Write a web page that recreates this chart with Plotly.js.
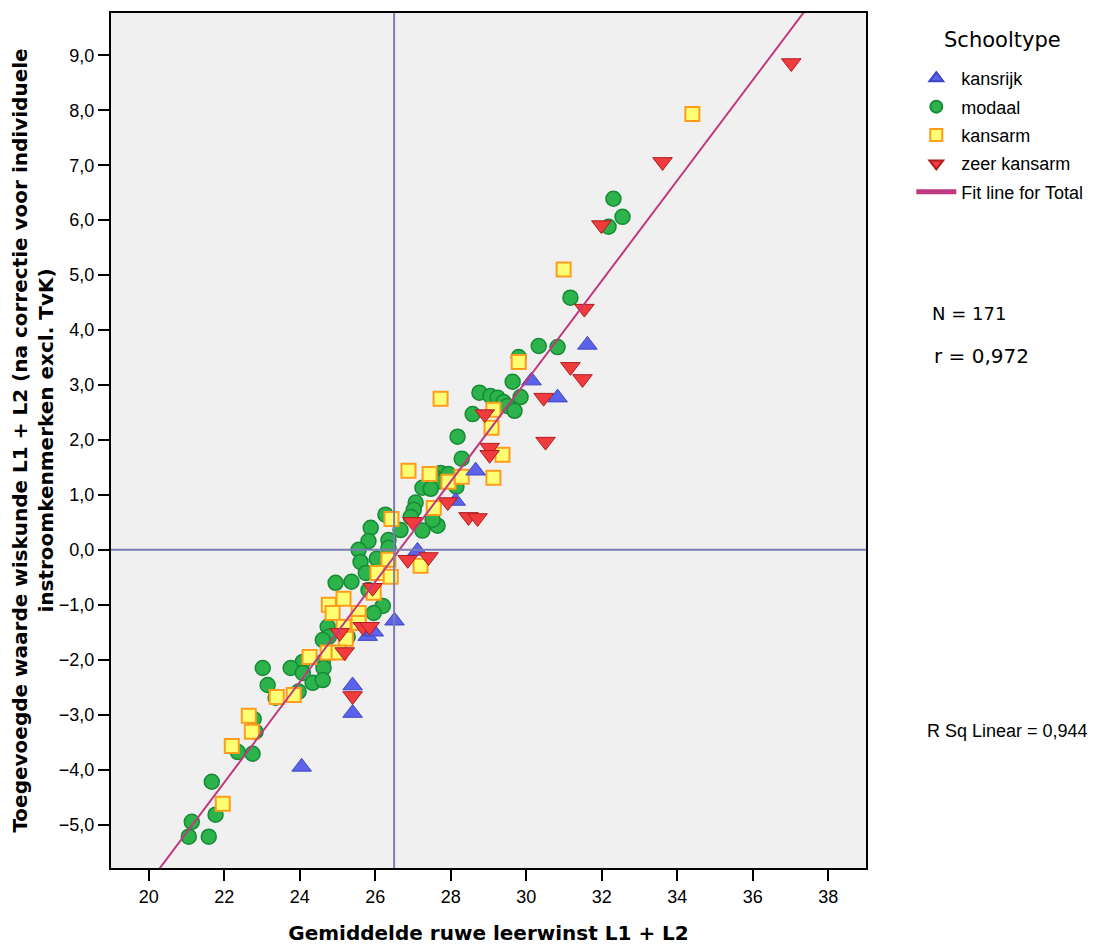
<!DOCTYPE html>
<html>
<head>
<meta charset="utf-8">
<script src="https://cdn.plot.ly/plotly-3.0.1.min.js"></script>
<style>html,body{margin:0;padding:0;background:#fff;}#chart{width:1108px;height:945px;}</style>
</head>
<body>
<div id="chart"></div>
<script>
// ---- data ----
const kansrijkX = [31.62, 30.14, 30.83, 28.66, 28.13, 27.12, 26.51, 25.80, 25.96, 25.40, 25.40, 24.05];
const kansrijkY = [3.73, 3.08, 2.77, 1.44, 0.89, -0.02, -1.29, -1.57, -1.49, -2.47, -2.97, -3.95];

const modaalX = [32.31, 32.55, 32.18, 31.17, 30.33, 30.83, 29.80, 29.64, 29.85, 28.76, 29.05, 29.24, 29.40, 29.50, 29.69, 28.58,
  28.18, 28.29, 27.73, 27.94, 27.55, 27.65, 27.25, 27.47, 28.15, 27.07, 27.02, 26.94, 27.25, 27.65, 27.52, 26.27, 26.67, 25.88,
  25.82, 26.35, 26.35, 25.56, 25.61, 26.04, 25.75, 24.95, 25.37, 25.82, 26.20, 25.96, 24.74, 24.77, 25.27, 24.61, 24.08, 23.76,
  24.08, 24.61, 24.63, 24.34, 24.61, 23.15, 23.36, 23.97, 22.78, 22.83, 22.36, 22.75, 21.67, 21.77, 21.14, 21.06, 21.59, 23.02];
const modaalY = [6.39, 6.06, 5.88, 4.59, 3.71, 3.69, 3.51, 3.06, 2.78, 2.86, 2.80, 2.77, 2.69, 2.62, 2.53, 2.47,
  2.06, 1.66, 1.40, 1.38, 1.33, 1.24, 1.13, 1.11, 1.15, 0.86, 0.73, 0.60, 0.35, 0.44, 0.55, 0.64, 0.36, 0.40,
  0.16, 0.18, 0.04, 0.00, -0.22, -0.16, -0.42, -0.60, -0.58, -0.73, -1.02, -1.15, -1.40, -1.58, -1.58, -1.64, -2.04, -2.15,
  -2.24, -2.04, -2.15, -2.42, -2.37, -2.46, -2.69, -2.58, -3.08, -3.31, -3.68, -3.71, -4.22, -4.82, -4.95, -5.22, -5.22, -2.15];

const kansarmX = [34.40, 30.99, 29.80, 27.73, 29.13, 29.08, 29.37, 29.13, 26.88, 27.44, 27.94, 28.29, 27.55, 26.43, 26.35, 27.20,
  26.06, 26.41, 25.96, 25.16, 24.77, 24.87, 25.56, 25.56, 25.16, 25.22, 24.74, 25.03, 24.26, 23.39, 23.84, 22.65, 22.73, 22.20, 21.96];
const kansarmY = [7.93, 5.10, 3.42, 2.75, 2.55, 2.22, 1.73, 1.31, 1.44, 1.38, 1.24, 1.33, 0.76, 0.56, -0.18, -0.29,
  -0.42, -0.49, -0.78, -0.89, -1.00, -1.15, -1.15, -1.33, -1.40, -1.62, -1.87, -1.87, -1.95, -2.68, -2.64, -3.02, -3.31, -3.57, -4.62];

const zeerKansarmX = [37.02, 33.61, 31.99, 31.54, 31.17, 31.49, 30.46, 30.51, 28.90, 29.03, 29.03, 27.92, 28.47, 28.71, 26.99, 26.86,
  27.41, 25.93, 25.06, 25.67, 25.85, 25.19, 25.40];
const zeerKansarmY = [8.86, 7.06, 5.91, 4.39, 3.33, 3.11, 2.77, 1.97, 2.47, 1.86, 1.73, 0.87, 0.60, 0.58, 0.51, -0.18,
  -0.13, -0.69, -1.51, -1.40, -1.40, -1.86, -2.66];

const fitSlope = 0.913;
const fitIntercept = -24.32;
const meanX = 26.5;
const meanY = 0.0;

const xRange = [19, 39];
const yRange = [-5.79, 9.77];
const xTicks = [20, 22, 24, 26, 28, 30, 32, 34, 36, 38];
const yTicks = [-5, -4, -3, -2, -1, 0, 1, 2, 3, 4, 5, 6, 7, 8, 9];

const legendTitle = 'Schooltype';
const statN = 'N = 171';
const statR = 'r = 0,972';
const statRsq = 'R Sq Linear = 0,944';

// ---- traces ----
const fitX = xRange.slice();
const fitY = fitX.map(x => fitSlope * x + fitIntercept);

const common = {type: 'scatter', mode: 'markers', hoverinfo: 'x+y'};
const traces = [
  Object.assign({}, common, {
    name: 'modaal', x: modaalX, y: modaalY, legendrank: 2, legendgroup: 'g2',
    marker: {symbol: 'circle', size: 15, color: '#2cb34b', line: {color: '#178a36', width: 1.5}}
  }),
  Object.assign({}, common, {
    name: 'kansarm', x: kansarmX, y: kansarmY, legendrank: 3, legendgroup: 'g3',
    marker: {symbol: 'square', size: 14, color: '#ffff73', line: {color: '#ff9c1c', width: 2}}
  }),
  Object.assign({}, common, {
    name: 'kansrijk', x: kansrijkX, y: kansrijkY, legendrank: 1, legendgroup: 'g1',
    marker: {symbol: 'triangle-up', size: 17, color: '#5b63ea', line: {color: '#3d45c4', width: 1}}
  }),
  Object.assign({}, common, {
    name: 'zeer kansarm', x: zeerKansarmX, y: zeerKansarmY, legendrank: 4, legendgroup: 'g4',
    marker: {symbol: 'triangle-down', size: 17, color: '#f23b3d', line: {color: '#b01b1f', width: 1}}
  }),
  {
    type: 'scatter', mode: 'lines', name: 'Fit line for Total', x: fitX, y: fitY,
    legendrank: 5, legendgroup: 'g5', hoverinfo: 'skip',
    line: {color: '#c0397f', width: 2}
  }
];

const axisCommon = {
  showline: true, linewidth: 2, linecolor: '#000', mirror: true,
  ticks: 'outside', ticklen: 11, tickwidth: 2, tickcolor: '#000',
  showgrid: false, zeroline: false,
  tickfont: {family: 'Liberation Sans, Arial, sans-serif', size: 18, color: '#000'}
};

const layout = {
  width: 1108, height: 945,
  margin: {l: 111, r: 242, t: 13, b: 77},
  paper_bgcolor: '#ffffff',
  plot_bgcolor: '#f0f0f0',
  separators: ',.',
  showlegend: true,
  xaxis: Object.assign({}, axisCommon, {
    range: xRange, tickmode: 'array', tickvals: xTicks,
    title: {text: '<b>Gemiddelde ruwe leerwinst L1 + L2</b>', standoff: 20,
      font: {family: 'DejaVu Sans, Verdana, sans-serif', size: 20, color: '#000'}}
  }),
  yaxis: Object.assign({}, axisCommon, {
    range: yRange, tickmode: 'array', tickvals: yTicks, tickformat: '.1f',
    title: {text: '<b>Toegevoegde waarde wiskunde L1 + L2 (na correctie voor individuele<br>instroomkenmerken excl. TvK)</b>',
      standoff: 0,
      font: {family: 'DejaVu Sans, Verdana, sans-serif', size: 20, color: '#000'}}
  }),
  legend: {
    x: 1.06, y: 0.945, xanchor: 'left', yanchor: 'top',
    bgcolor: 'rgba(0,0,0,0)', tracegroupgap: 2, itemsizing: 'constant', itemwidth: 40,
    font: {family: 'Liberation Sans, Arial, sans-serif', size: 18, color: '#000'}
  },
  shapes: [
    {type: 'line', xref: 'x', yref: 'paper', x0: meanX, x1: meanX, y0: 0, y1: 1,
     line: {color: '#7d7db5', width: 2}, layer: 'above'},
    {type: 'line', xref: 'paper', yref: 'y', x0: 0, x1: 1, y0: meanY, y1: meanY,
     line: {color: '#7d7db5', width: 2}, layer: 'above'}
  ],
  annotations: [
    {xref: 'paper', yref: 'paper', x: 1.181, y: 0.969, xanchor: 'center', yanchor: 'middle', showarrow: false,
     text: legendTitle, font: {family: 'DejaVu Sans, Verdana, sans-serif', size: 21, color: '#000'}},
    {xref: 'paper', yref: 'paper', x: 1.085, y: 0.649, xanchor: 'left', yanchor: 'middle', showarrow: false,
     text: statN, font: {family: 'DejaVu Sans, Verdana, sans-serif', size: 18, color: '#000'}},
    {xref: 'paper', yref: 'paper', x: 1.087, y: 0.599, xanchor: 'left', yanchor: 'middle', showarrow: false,
     text: statR, font: {family: 'DejaVu Sans, Verdana, sans-serif', size: 20, color: '#000'}},
    {xref: 'paper', yref: 'paper', x: 1.078, y: 0.160, xanchor: 'left', yanchor: 'middle', showarrow: false,
     text: statRsq, font: {family: 'Liberation Sans, Arial, sans-serif', size: 18, color: '#000'}}
  ]
};

Plotly.newPlot('chart', traces, layout, {displayModeBar: false});
</script>
</body>
</html>
